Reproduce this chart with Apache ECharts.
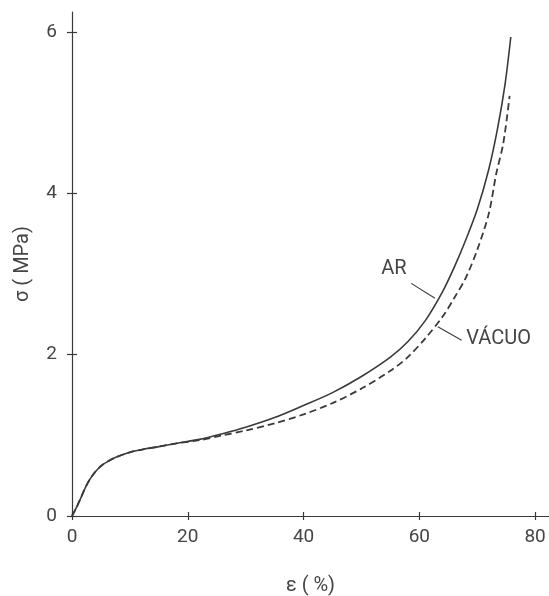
<!DOCTYPE html>
<html>
<head>
<meta charset="utf-8">
<script src="https://cdn.jsdelivr.net/npm/echarts@6/dist/echarts.min.js"></script>
<style>
  html, body { margin: 0; padding: 0; background: #fff; }
  #chart { width: 549px; height: 596px; }
</style>
</head>
<body>
<div id="chart"></div>
<script>
// Strain (%) and stress (MPa) for the two test atmospheres
const strainAr = [0, 0.8, 1.5, 2.5, 3.5, 5, 6.5, 8, 10, 12.5, 15, 18, 22, 26, 30, 35, 40, 45, 50, 55, 58, 61, 64, 66, 68, 70, 72, 73.5, 74.8, 75.8];
const stressAr = [0, 0.11, 0.22, 0.38, 0.5, 0.62, 0.69, 0.74, 0.79, 0.83, 0.86, 0.9, 0.95, 1.02, 1.1, 1.22, 1.37, 1.53, 1.73, 1.97, 2.16, 2.42, 2.78, 3.08, 3.42, 3.8, 4.3, 4.8, 5.35, 5.94];

const strainVac = [0, 0.8, 1.5, 2.5, 3.5, 5, 6.5, 8, 10, 12.5, 15, 18, 22, 26, 30, 35, 40, 45, 50, 55, 58, 61, 64, 66, 68, 70, 72, 73.3, 74.5, 75.6];
const stressVac = [0, 0.11, 0.22, 0.38, 0.5, 0.62, 0.69, 0.74, 0.79, 0.83, 0.86, 0.9, 0.94, 1.0, 1.06, 1.15, 1.26, 1.40, 1.58, 1.8, 1.97, 2.2, 2.47, 2.7, 2.95, 3.3, 3.75, 4.25, 4.62, 5.21];

const xTicks = [0, 20, 40, 60, 80];
const yTicks = [0, 2, 4, 6];

// Curve labels with their leader lines (data coordinates)
const labelAr = { text: 'AR', at: [55.6, 3.06], leader: [[58.6, 2.885], [62.7, 2.70]] };
const labelVac = { text: 'VÁCUO', at: [73.7, 2.19], leader: [[63.2, 2.347], [67.3, 2.18]] };

const ink = '#3a3a3a';
const textInk = '#454545';
const font = 'Roboto';

const pairs = (xs, ys) => xs.map((x, i) => [x, ys[i]]);

const X_MAX = 82.4, Y_MAX = 6.25;
const plotBox = { left: 72, top: 12, right: 0, bottom: 80, containLabel: false, outerBoundsMode: 'none' };

function annotate(lbl) {
  return {
    markLine: {
      silent: true, symbol: 'none', animation: false,
      label: { show: false },
      lineStyle: { color: ink, width: 1.1, type: 'solid' },
      data: [[{ coord: lbl.leader[0] }, { coord: lbl.leader[1] }]]
    },
    markPoint: {
      silent: true, symbol: 'circle', symbolSize: 0, animation: false,
      label: { show: true, position: 'inside', formatter: lbl.text, color: textInk, fontFamily: font, fontSize: 20 },
      data: [{ coord: lbl.at }]
    }
  };
}

// Tick marks cross the axis lines: the outer half comes from the main axes,
// the inner half from a twin grid laid exactly over the first one.
const tickStyle = { color: ink, width: 1.2 };

const chart = echarts.init(document.getElementById('chart'));
chart.setOption({
  backgroundColor: '#fff',
  animation: false,
  grid: [Object.assign({}, plotBox), Object.assign({}, plotBox)],
  xAxis: [
    {
      type: 'value', gridIndex: 0, min: 0, max: X_MAX,
      name: 'ε ( %)', nameLocation: 'middle', nameGap: 60,
      nameTextStyle: { color: textInk, fontFamily: font, fontSize: 20 },
      axisLine: { show: true, lineStyle: { color: ink, width: 1.2 } },
      axisTick: { show: true, inside: false, length: 4, customValues: xTicks, lineStyle: tickStyle },
      axisLabel: { show: true, customValues: xTicks, margin: 12, color: textInk, fontFamily: font, fontSize: 19 },
      splitLine: { show: false }
    },
    {
      type: 'value', gridIndex: 1, min: 0, max: X_MAX, position: 'bottom',
      axisLine: { show: false },
      axisTick: { show: true, inside: true, length: 4, customValues: xTicks, lineStyle: tickStyle },
      axisLabel: { show: false },
      splitLine: { show: false }
    }
  ],
  yAxis: [
    {
      type: 'value', gridIndex: 0, min: 0, max: Y_MAX,
      name: 'σ ( MPa)', nameLocation: 'middle', nameGap: 39, nameRotate: 90,
      nameTextStyle: { color: textInk, fontFamily: font, fontSize: 20 },
      axisLine: { show: true, lineStyle: { color: ink, width: 1.2 } },
      axisTick: { show: true, inside: false, length: 5, customValues: yTicks, lineStyle: tickStyle },
      axisLabel: { show: true, customValues: yTicks, margin: 15, color: textInk, fontFamily: font, fontSize: 19 },
      splitLine: { show: false }
    },
    {
      type: 'value', gridIndex: 1, min: 0, max: Y_MAX, position: 'left',
      axisLine: { show: false },
      axisTick: { show: true, inside: true, length: 5, customValues: yTicks, lineStyle: tickStyle },
      axisLabel: { show: false },
      splitLine: { show: false }
    }
  ],
  series: [
    Object.assign({
      name: 'AR', type: 'line', xAxisIndex: 0, yAxisIndex: 0,
      data: pairs(strainAr, stressAr),
      smooth: 0.3, symbol: 'none',
      lineStyle: { color: ink, width: 1.6, type: 'solid' },
      z: 3
    }, annotate(labelAr)),
    Object.assign({
      name: 'VÁCUO', type: 'line', xAxisIndex: 0, yAxisIndex: 0,
      data: pairs(strainVac, stressVac),
      smooth: 0.3, symbol: 'none',
      lineStyle: { color: ink, width: 1.8, type: [7, 4] },
      z: 2
    }, annotate(labelVac))
  ]
});
</script>
</body>
</html>
